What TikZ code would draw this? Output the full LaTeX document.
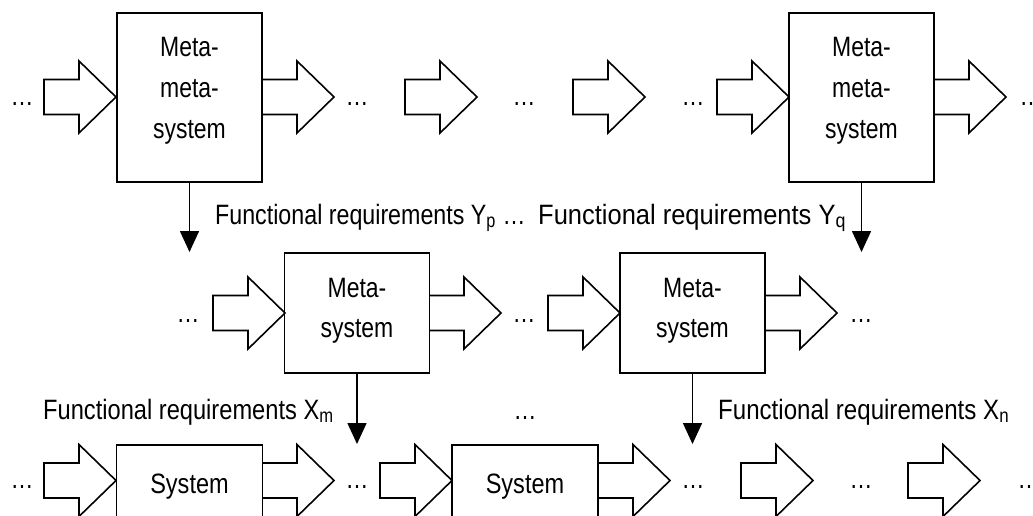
\documentclass[tikz,border=0pt]{standalone}
\usepackage{fontspec}
\setmainfont{Liberation Sans}
\usepackage{graphicx}
\usetikzlibrary{arrows.meta}
\newcommand\nar[2][0.82]{\scalebox{#1}[1]{#2}}
\tikzset{
  box/.style={draw, line width=1.6pt, inner sep=0pt, minimum width=145pt},
  txt/.style={inner sep=0pt, font=\fontsize{28}{34}\selectfont},
  down/.style={line width=1.6pt, -{Triangle[width=19pt,length=21pt]}},
  blk/.style={line width=1.6pt, line join=miter},
  closedarrow/.pic={\draw[blk] (0,-17.5) -- (35,-17.5) -- (35,-36) -- (72,0) -- (35,36) -- (35,17.5) -- (0,17.5) -- cycle;},
  openarrow/.pic={\draw[blk] (0,-17.5) -- (35,-17.5) -- (35,-36) -- (72,0) -- (35,36) -- (35,17.5) -- (0,17.5);}
}
\begin{document}
\begin{tikzpicture}[x=1pt,y=-1pt]
\useasboundingbox (0,0) rectangle (1033,516);
\clip (0,0) rectangle (1033,516);
% boxes
\node[box, minimum height=169pt] (mm1) at (189.5,97.5) {};
\node[box, minimum height=169pt] (mm2) at (861.5,97.5) {};
\node[box, minimum height=120pt] (ms1) at (357,313) {};
\node[box, minimum height=120pt] (ms2) at (692.5,313) {};
\node[box, minimum width=146pt, minimum height=110pt] (s1) at (189.5,500) {};
\node[box, minimum width=146pt, minimum height=110pt] (s2) at (525,500) {};
% box texts
\node[txt, anchor=base] (mm1a) at (189.5,57) {\nar{Meta-}};
\node[txt, anchor=base] (mm1b) at (189.5,98) {\nar{meta-}};
\node[txt, anchor=base] (mm1c) at (189.5,139) {\nar{system}};
\node[txt, anchor=base] (mm2a) at (861.5,57) {\nar{Meta-}};
\node[txt, anchor=base] (mm2b) at (861.5,98) {\nar{meta-}};
\node[txt, anchor=base] (mm2c) at (861.5,139) {\nar{system}};
\node[txt, anchor=base] (ms1a) at (357,297) {\nar{Meta-}};
\node[txt, anchor=base] (ms1b) at (357,337) {\nar{system}};
\node[txt, anchor=base] (ms2a) at (692.5,297) {\nar{Meta-}};
\node[txt, anchor=base] (ms2b) at (692.5,337) {\nar{system}};
\node[txt, anchor=base] (s1a) at (189.5,493) {\nar[0.84]{System}};
\node[txt, anchor=base] (s2a) at (525,493) {\nar[0.84]{System}};
% block arrows row 1
\pic at (44,97) {closedarrow};
\pic at (262,97) {openarrow};
\pic at (405,97) {closedarrow};
\pic at (573,97) {closedarrow};
\pic at (717,97) {closedarrow};
\pic at (934,97) {openarrow};
% row 2
\pic at (213,313) {closedarrow};
\pic at (429,313) {openarrow};
\pic at (548,313) {closedarrow};
\pic at (765,313) {openarrow};
% row 3
\pic at (44,480.5) {closedarrow};
\pic at (262,480.5) {openarrow};
\pic at (380,480.5) {closedarrow};
\pic at (598,480.5) {openarrow};
\pic at (741,480.5) {closedarrow};
\pic at (908,480.5) {closedarrow};
% dots
\node[txt, anchor=base] (d11) at (22,106) {\nar{…}};
\node[txt, anchor=base] (d12) at (357,106) {\nar{…}};
\node[txt, anchor=base] (d13) at (524,106) {\nar{…}};
\node[txt, anchor=base] (d14) at (693,106) {\nar{…}};
\node[txt, anchor=base] (d15) at (1031,106) {\nar{…}};
\node[txt, anchor=base] (d21) at (188,322) {\nar{…}};
\node[txt, anchor=base] (d22) at (524,322) {\nar{…}};
\node[txt, anchor=base] (d23) at (861,322) {\nar{…}};
\node[txt, anchor=base] (d31) at (22,488) {\nar{…}};
\node[txt, anchor=base] (d32) at (357,488) {\nar{…}};
\node[txt, anchor=base] (d33) at (693,488) {\nar{…}};
\node[txt, anchor=base] (d34) at (861,488) {\nar{…}};
\node[txt, anchor=base] (d35) at (1029,488) {\nar{…}};
% down arrows
\coordinate (t1) at (189.5,252);
\coordinate (t2) at (861.5,252);
\coordinate (t3) at (357,444);
\coordinate (t4) at (692.5,444);
\draw[down] (mm1.south) -- (t1);
\draw[down] (mm2.south) -- (t2);
\draw[down] (ms1.south) -- (t3);
\draw[down] (ms2.south) -- (t4);
% labels
\node[txt, anchor=base west] (lyp) at (215,224) {\nar[0.83]{Functional requirements Y\textsubscript{p}}};
\node[txt, anchor=base] (ldy) at (514,224) {\nar{…}};
\node[txt, anchor=base west] (lyq) at (538,224) {\nar[0.91]{Functional requirements Y\textsubscript{q}}};
\node[txt, anchor=base west] (lxm) at (43,419) {\nar[0.845]{Functional requirements X\textsubscript{m}}};
\node[txt, anchor=base] (ldx) at (525,419) {\nar{…}};
\node[txt, anchor=base west] (lxn) at (718,419) {\nar[0.86]{Functional requirements X\textsubscript{n}}};
\end{tikzpicture}
\end{document}
